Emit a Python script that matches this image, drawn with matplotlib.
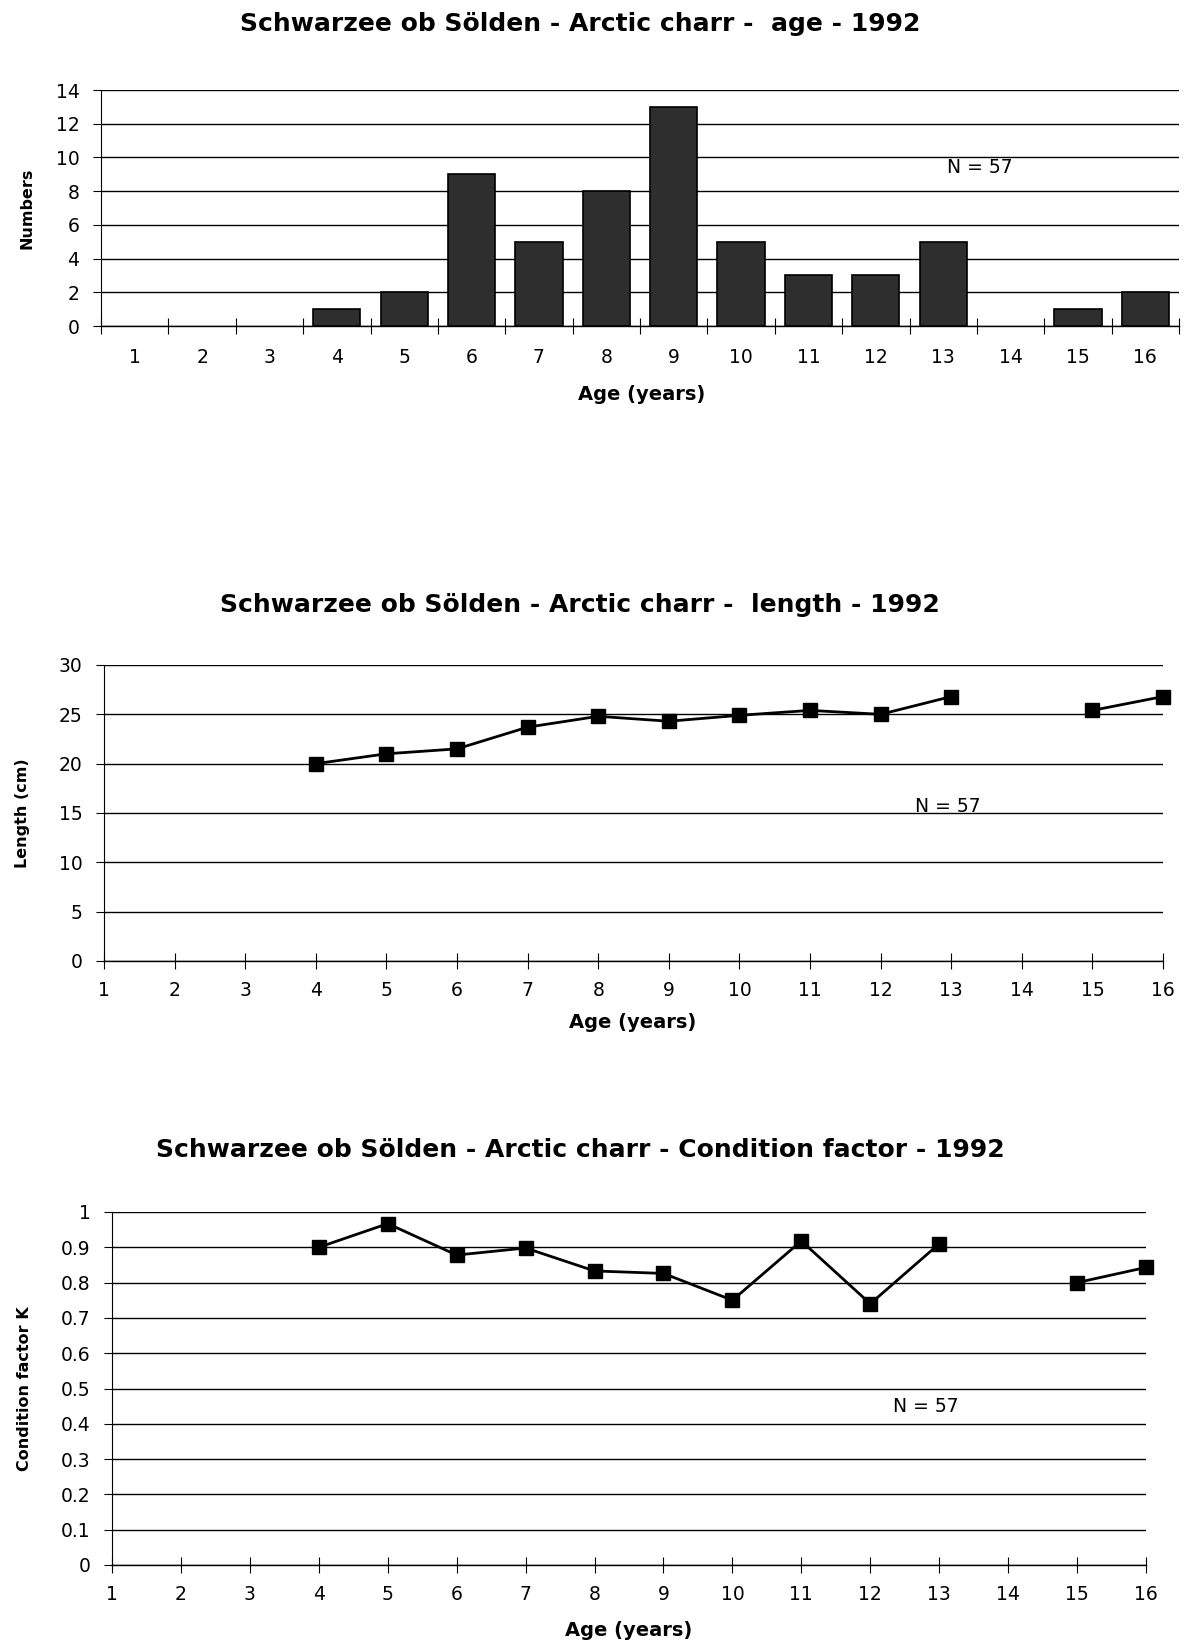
import matplotlib.pyplot as plt
import numpy as np

plt.rcParams['font.family'] = 'DejaVu Sans'

# Data
ages = np.arange(1, 17)
age_counts = np.array([0, 0, 0, 1, 2, 9, 5, 8, 13, 5, 3, 3, 5, 0, 1, 2])

length_cm = [np.nan, np.nan, np.nan, 20.0, 21.0, 21.5, 23.7, 24.8, 24.3, 24.9,
             25.4, 25.0, 26.8, np.nan, 25.4, 26.8]

cond_k = [np.nan, np.nan, np.nan, 0.90, 0.967, 0.878, 0.898, 0.833, 0.826, 0.750,
          0.918, 0.740, 0.910, np.nan, 0.800, 0.843]

titles = ['Schwarzee ob Sölden - Arctic charr -  age - 1992',
          'Schwarzee ob Sölden - Arctic charr -  length - 1992',
          'Schwarzee ob Sölden - Arctic charr - Condition factor - 1992']
ylabels = ['Numbers', 'Length (cm)', 'Condition factor K']
xlabel = 'Age (years)'
n_text = 'N = 57'

W, H = 1185, 1641
fig = plt.figure(figsize=(W / 100, H / 100), dpi=100)


def px_axes(left, top, right, bottom):
    return fig.add_axes([left / W, 1 - bottom / H, (right - left) / W, (bottom - top) / H])


def style(ax):
    ax.spines['top'].set_visible(False)
    ax.spines['right'].set_visible(False)
    ax.spines['left'].set_linewidth(0.8)
    ax.spines['bottom'].set_linewidth(1.0)
    ax.yaxis.grid(True, color='black', linewidth=1.0)
    ax.set_axisbelow(True)
    ax.tick_params(axis='y', direction='out', length=5.5, width=0.8, labelsize=13.5, pad=10)
    ax.tick_params(axis='x', labelsize=13.5)


# ---- panel 1: bar chart of age (empty age classes have no bar)
ax1 = px_axes(101, 90, 1179, 326)
has_fish = age_counts > 0
ax1.bar(ages[has_fish], age_counts[has_fish], width=0.7, color='#2e2e2e',
        edgecolor='black', linewidth=1.2, zorder=3)
ax1.set_xlim(0.5, 16.5)
ax1.set_ylim(0, 14)
ax1.set_yticks(range(0, 15, 2))
style(ax1)
ax1.set_xticks(np.arange(0.5, 17, 1))
ax1.set_xticklabels([])
ax1.tick_params(axis='x', which='major', direction='inout', length=11, width=0.8)
ax1.set_xticks(ages, minor=True)
ax1.set_xticklabels([str(a) for a in ages], minor=True)
ax1.tick_params(axis='x', which='minor', length=0, labelsize=13.5, pad=16)
ax1.text(13.54, 9.4, n_text, ha='center', va='center', fontsize=13.5)

# ---- panel 2: length
ax2 = px_axes(104, 665, 1163, 961)
ax2.plot(ages, length_cm, color='black', linewidth=2.0, marker='s', markersize=9.5,
         clip_on=False, zorder=3)
ax2.set_xlim(1, 16)
ax2.set_ylim(0, 30)
ax2.set_yticks(range(0, 31, 5))
ax2.set_xticks(ages)
style(ax2)
ax2.tick_params(axis='x', direction='inout', length=11, width=0.8, pad=9)
ax2.text(12.95, 15.65, n_text, ha='center', va='center', fontsize=13.5)

# ---- panel 3: condition factor
ax3 = px_axes(112, 1212, 1146, 1565)
ax3.plot(ages, cond_k, color='black', linewidth=2.0, marker='s', markersize=9.5,
         clip_on=False, zorder=3)
ax3.set_xlim(1, 16)
ax3.set_ylim(0, 1)
ax3.set_yticks(np.arange(0, 1.01, 0.1))
ax3.set_yticklabels(['0', '0.1', '0.2', '0.3', '0.4', '0.5', '0.6', '0.7', '0.8', '0.9', '1'])
ax3.set_xticks(ages)
style(ax3)
ax3.tick_params(axis='x', direction='inout', length=11, width=0.8, pad=9)
ax3.text(12.81, 0.448, n_text, ha='center', va='center', fontsize=13.5)

# titles and axis labels in figure pixel positions
title_y = [24, 605, 1150]
xlabel_pos = [(642, 395), (633, 1023), (629, 1630)]
ylabel_pos = [(27, 208), (23, 813), (25, 1389)]
for i in range(3):
    fig.text(580 / W, 1 - title_y[i] / H, titles[i], ha='center', va='center',
             fontsize=18, fontweight='bold')
    fig.text(xlabel_pos[i][0] / W, 1 - xlabel_pos[i][1] / H, xlabel, ha='center', va='center',
             fontsize=14, fontweight='bold')
    fig.text(ylabel_pos[i][0] / W, 1 - ylabel_pos[i][1] / H, ylabels[i], ha='center', va='center',
             rotation=90, fontsize=11.5, fontweight='bold')

fig.savefig('out.png', dpi=100)
